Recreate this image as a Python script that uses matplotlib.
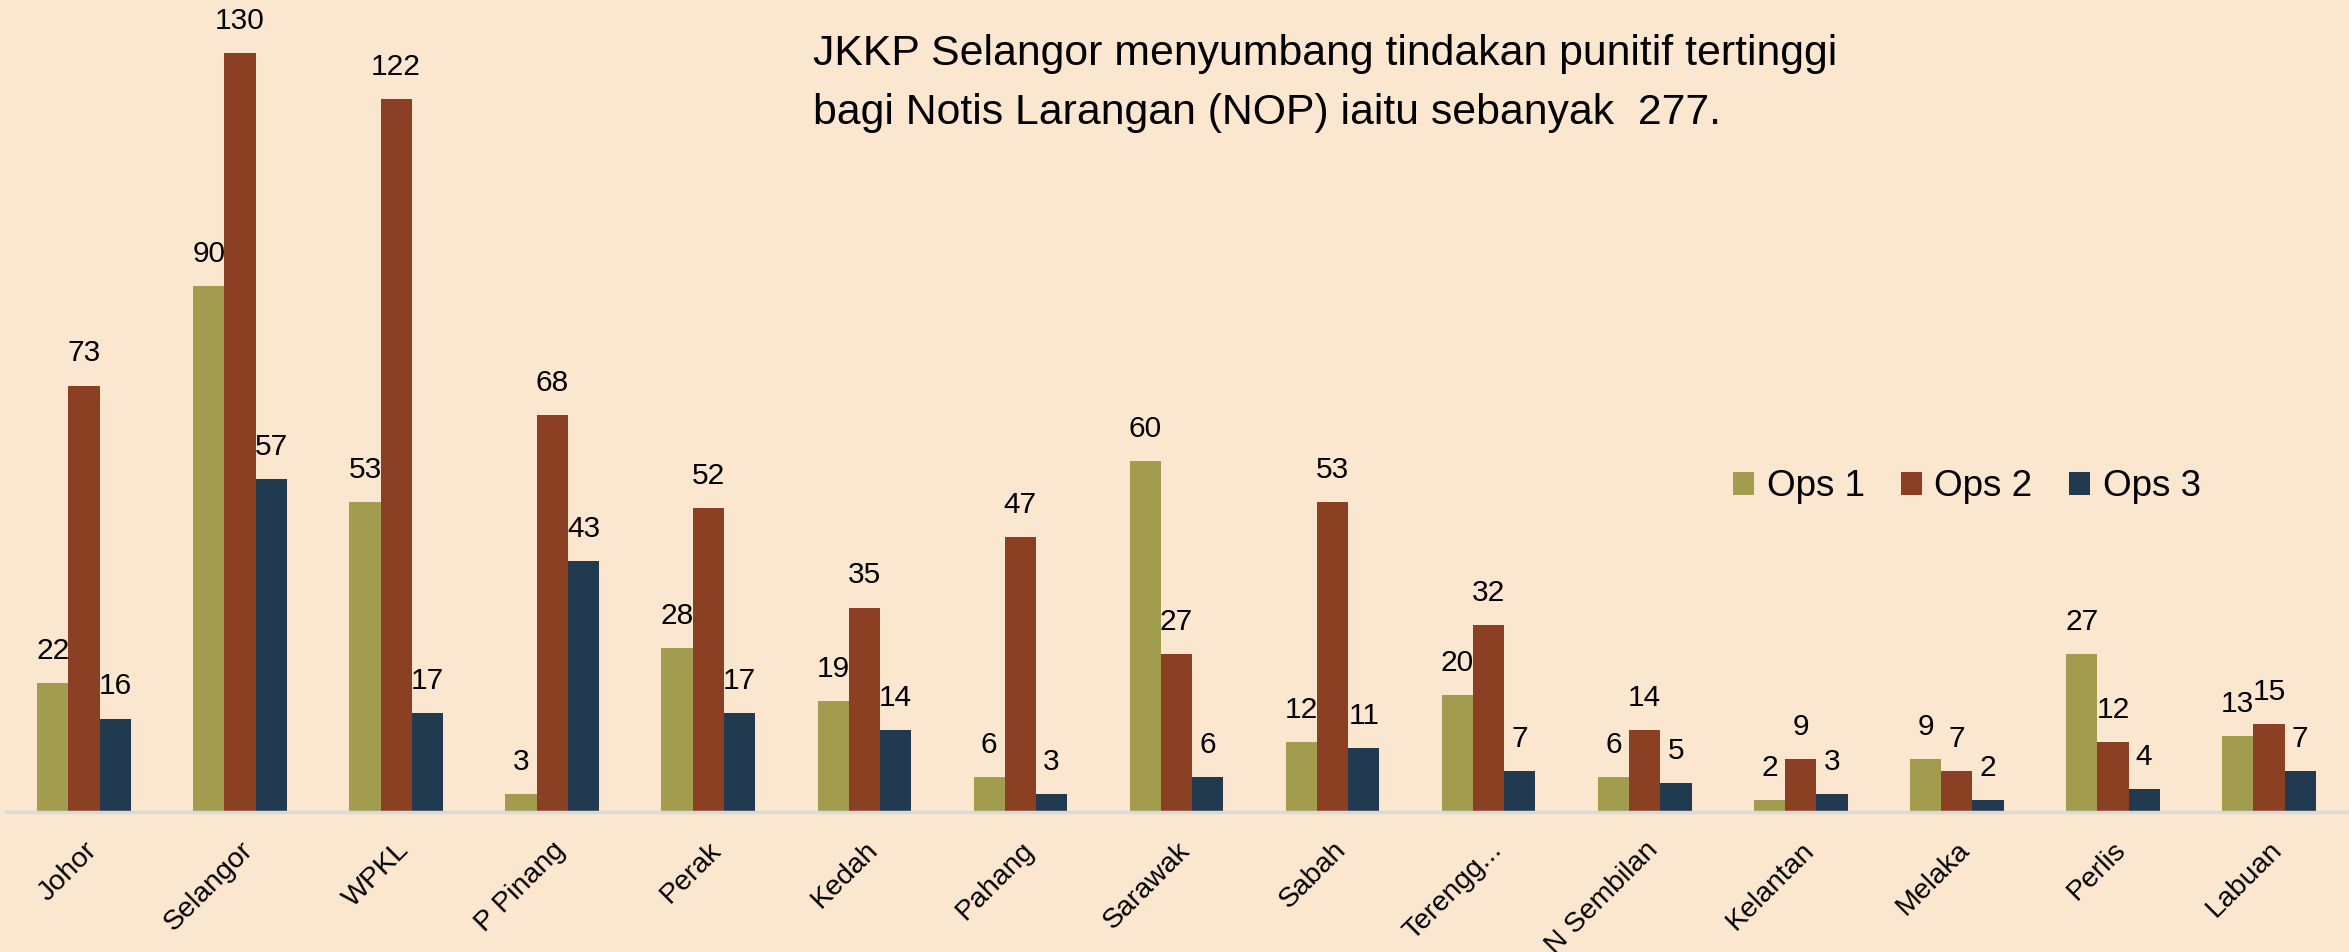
import numpy as np
import matplotlib.pyplot as plt

# data
negeri = ['Johor', 'Selangor', 'WPKL', 'P Pinang', 'Perak', 'Kedah', 'Pahang',
          'Sarawak', 'Sabah', 'Terengg...', 'N Sembilan', 'Kelantan', 'Melaka',
          'Perlis', 'Labuan']
ops1 = [22, 90, 53, 3, 28, 19, 6, 60, 12, 20, 6, 2, 9, 27, 13]
ops2 = [73, 130, 122, 68, 52, 35, 47, 27, 53, 32, 14, 9, 7, 12, 15]
ops3 = [16, 57, 17, 43, 17, 14, 3, 6, 11, 7, 5, 3, 2, 4, 7]
siri = ['Ops 1', 'Ops 2', 'Ops 3']
warna = ['#A29C4E', '#8B4024', '#213A4F']

bg = '#FBE7CF'
plt.rcParams['font.family'] = ['Liberation Sans', 'DejaVu Sans']

fig = plt.figure(figsize=(23.49, 9.52), dpi=100, facecolor=bg)
ax = fig.add_axes([6 / 2349, 1 - 812 / 952, 2341 / 2349, 812 / 952])
ax.set_facecolor(bg)

x = np.arange(len(negeri))
w = 0.2
for i, (vals, nama, c) in enumerate(zip([ops1, ops2, ops3], siri, warna)):
    bars = ax.bar(x + (i - 1) * w, vals, w, color=c, label=nama)
    for b, v in zip(bars, vals):
        ax.annotate(str(v), (b.get_x() + b.get_width() / 2, v),
                    xytext=(0, 13), textcoords='offset points',
                    ha='center', va='bottom', fontsize=21.5)

ax.set_xlim(-0.5, len(negeri) - 0.5)
ax.set_ylim(0, 139)
ax.set_yticks([])
ax.set_xticks(x)
ax.set_xticklabels(negeri, rotation=45, ha='right', rotation_mode='anchor',
                   fontsize=20.5)
ax.tick_params(axis='x', length=0, pad=18)
for s in ['top', 'right', 'left']:
    ax.spines[s].set_visible(False)
ax.spines['bottom'].set_color('#D9D9D9')
ax.spines['bottom'].set_linewidth(2.5)

fig.text(813 / 2349, 1 - 54 / 952,
         'JKKP Selangor menyumbang tindakan punitif tertinggi',
         fontsize=30.8, va='center', ha='left')
fig.text(813 / 2349, 1 - 113 / 952,
         'bagi Notis Larangan (NOP) iaitu sebanyak  277.',
         fontsize=30.8, va='center', ha='left')

ax.legend(loc='center', bbox_to_anchor=(1967 / 2349, 1 - 487 / 952),
          bbox_transform=fig.transFigure, ncol=3, frameon=False,
          fontsize=26.5, handlelength=0.55, handleheight=0.55,
          handletextpad=0.35, columnspacing=1.0)

fig.savefig('out.png', dpi=100, facecolor=bg)
